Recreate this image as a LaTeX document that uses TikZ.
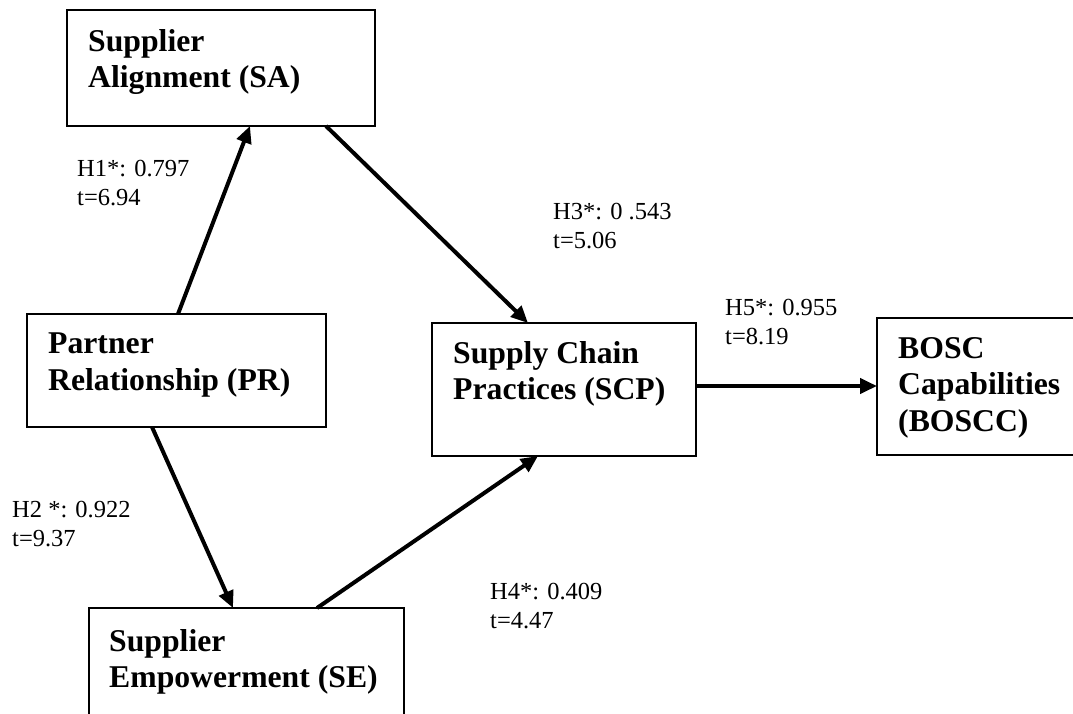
\documentclass[tikz,border=0pt]{standalone}
\usepackage{fontspec}
\setmainfont{Liberation Serif}
\usetikzlibrary{arrows.meta}
\begin{document}
\begin{tikzpicture}[x=1pt,y=-1pt,
  box/.style={draw, line width=2.6pt, inner sep=0pt, outer sep=0pt, anchor=north west},
  boxtext/.style={anchor=north west, inner sep=0pt, align=left,
    font=\fontsize{31.7}{36.5}\selectfont\bfseries},
  coef/.style={anchor=north west, inner sep=0pt, align=left,
    font=\fontsize{24.5}{29}\selectfont},
  link/.style={line width=4pt, -{Triangle[length=17pt,width=15pt]}}]
\useasboundingbox (0,0) rectangle (1073,713);
\fill[white] (0,0) rectangle (1073,713);

% constructs
\node[box, minimum width=308pt, minimum height=116pt] (sa) at (67,10) {};
\node[boxtext] (saT) at ([shift={(21pt,-19pt)}]sa.north west) {Supplier\\Alignment (SA)};

\node[box, minimum width=299pt, minimum height=113pt] (pr) at (27,314) {};
\node[boxtext] (prT) at ([shift={(21pt,-19pt)}]pr.north west) {Partner\\Relationship (PR)};

\node[box, minimum width=264pt, minimum height=133pt] (scp) at (432,323) {};
\node[boxtext] (scpT) at ([shift={(21pt,-18pt)}]scp.north west) {Supply Chain\\Practices (SCP)};

\node[box, minimum width=200pt, minimum height=137pt] (bo) at (877,318) {};
\node[boxtext] (boT) at ([shift={(21pt,-19pt)}]bo.north west) {BOSC\\Capabilities\\(BOSCC)};

\node[box, minimum width=315pt, minimum height=125pt] (se) at (89,608) {};
\node[boxtext] (seT) at ([shift={(20pt,-21pt)}]se.north west) {Supplier\\Empowerment (SE)};

% paths
\draw[link] ([xshift=151pt]pr.north west) -- ([xshift=183pt]sa.south west);
\draw[link] ([xshift=125pt]pr.south west) -- ([xshift=144pt]se.north west);
\draw[link] ([xshift=259pt]sa.south west) -- ([xshift=96pt]scp.north west);
\draw[link] ([xshift=228pt]se.north west) -- ([xshift=106pt]scp.south west);
\draw[link] ([yshift=-63pt]scp.north east) -- ([yshift=-68pt]bo.north west);

% path coefficients
\node[coef] (h1) at (77,160) {H1*: 0.797\\t=6.94};
\node[coef] (h3) at (553,203) {H3*: 0 .543\\t=5.06};
\node[coef] (h5) at (725,299) {H5*: 0.955\\t=8.19};
\node[coef] (h2) at (12,501) {H2 *: 0.922\\t=9.37};
\node[coef] (h4) at (490,583) {H4*: 0.409\\t=4.47};
\end{tikzpicture}
\end{document}
